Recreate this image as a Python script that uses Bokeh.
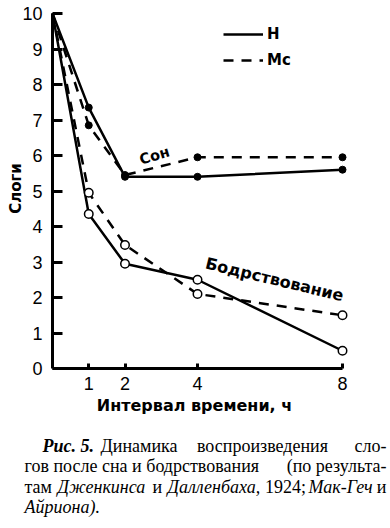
from bokeh.plotting import figure
from bokeh.models import Label, FixedTicker, Range1d, Legend, LegendItem, LinearAxis
from bokeh.embed import file_html
from bokeh.resources import INLINE

# ---- data ----
hours = [0, 1, 2, 4, 8]
sleep_h = [10, 7.35, 5.4, 5.4, 5.6]
sleep_mc = [10, 6.85, 5.45, 5.95, 5.95]
wake_h = [10, 4.35, 2.95, 2.5, 0.5]
wake_mc = [10, 4.95, 3.48, 2.1, 1.5]
x_ticks = [1, 2, 4, 8]
y_ticks = [0, 1, 2, 3, 4, 5, 6, 7, 8, 9, 10]
legend_labels = ["Н", "Мс"]
curve_labels = ["Сон", "Бодрствование"]
x_title = "Интервал времени, ч"
y_title = "Слоги"

# ---- geometry (pixels of the page) ----
W, H = 390, 528
OX, OY = 52, 368          # page position of data (0, 0)
SX, SY = 36.25, 35.5      # pixels per data unit


def dx(px):
    return (px - OX) / SX


def dy(py):
    return (OY - py) / SY


p = figure(width=W, height=H,
           x_range=Range1d(dx(0), dx(W)), y_range=Range1d(dy(H), dy(0)),
           x_axis_location=None, y_axis_location=None,
           min_border=0, output_backend="svg", toolbar_location=None)
p.grid.visible = False
p.outline_line_color = None
p.background_fill_color = "white"
p.border_fill_color = "white"

xaxis = LinearAxis(fixed_location=0, ticker=FixedTicker(ticks=x_ticks), bounds=(0, 8))
yaxis = LinearAxis(fixed_location=0, ticker=FixedTicker(ticks=y_ticks), bounds=(0, 10))
for ax in (xaxis, yaxis):
    ax.axis_line_width = 3
    ax.axis_line_color = "black"
    ax.major_tick_line_width = 3
    ax.major_tick_line_color = "black"
    ax.major_tick_out = 0
    ax.minor_tick_in = 0
    ax.minor_tick_out = 0
    ax.major_label_text_font = "Liberation Sans"
    ax.major_label_text_font_size = "18px"
    ax.major_label_text_color = "black"
    ax.major_label_standoff = 10
xaxis.major_tick_in = 5
xaxis.major_label_standoff = 8
yaxis.major_tick_in = 10
p.add_layout(xaxis, "below")
p.add_layout(yaxis, "left")

# ---- curves ----
lw = 2.5
r_sh = p.line(hours, sleep_h, line_color="black", line_width=lw)
r_smc = p.line(hours, sleep_mc, line_color="black", line_width=lw, line_dash="10 8")
p.line(hours, wake_h, line_color="black", line_width=lw)
p.line(hours, wake_mc, line_color="black", line_width=lw, line_dash="10 8")

p.scatter(hours[1:], sleep_h[1:], size=7, marker="circle", fill_color="black", line_color="black")
p.scatter(hours[1:], sleep_mc[1:], size=7, marker="circle", fill_color="black", line_color="black")
p.scatter(hours[1:], wake_h[1:], size=8.5, marker="circle", fill_color="white", line_color="black", line_width=1.5)
p.scatter(hours[1:], wake_mc[1:], size=8.5, marker="circle", fill_color="white", line_color="black", line_width=1.5)

# ---- legend ----
legend = Legend(items=[LegendItem(label=legend_labels[0], renderers=[r_sh]),
                       LegendItem(label=legend_labels[1], renderers=[r_smc])],
                location=(223, H - 69.5), orientation="vertical",
                glyph_width=40, glyph_height=20, label_height=20,
                label_standoff=4, spacing=6, padding=0,
                border_line_color=None, background_fill_alpha=0,
                label_text_font="DejaVu Sans", label_text_font_style="bold",
                label_text_font_size="15px", label_text_color="black")
p.add_layout(legend, "center")


def add_text(px, py, text, size, font="DejaVu Sans", style="bold", angle=0,
             align="center", baseline="middle"):
    p.add_layout(Label(x=dx(px), y=dy(py), text=text, angle=angle, angle_units="deg",
                       text_align=align, text_baseline=baseline,
                       text_font=font, text_font_style=style, text_font_size=size,
                       text_color="black"))


# ---- in-plot labels ----
add_text(154, 155, curve_labels[0], "14.5px", angle=17)
add_text(274, 279, curve_labels[1], "16px", angle=-13.5)
add_text(15, 188, y_title, "15px", angle=90)
add_text(194, 405, x_title, "16px")

# ---- caption (justified between x=24 and x=386) ----
caption = [
    (445, [(42, "left", "Рис. 5.", "bold italic"), (100, "left", "Динамика", "normal"),
           (262, "center", "воспроизведения", "normal"), (386, "right", "сло-", "normal")]),
    (465.5, [(24, "left", "гов после сна и бодрствования", "normal"),
             (386, "right", "(по результа-", "normal")]),
    (486, [(24, "left", "там", "normal"), (57, "left", "Дженкинса", "italic"),
           (152, "left", "и", "normal"), (167, "left", "Далленбаха,", "italic"),
           (264.5, "left", "1924;", "normal"), (308, "left", "Мак-Геч", "italic"),
           (386, "right", "и", "normal")]),
    (506.5, [(24, "left", "Айриона).", "italic")]),
]
for base_y, segs in caption:
    for px, align, txt, style in segs:
        add_text(px, base_y, txt, "18px", font="Liberation Serif", style=style,
                 align=align, baseline="alphabetic")

open("out.html", "w").write(file_html(p, INLINE))
